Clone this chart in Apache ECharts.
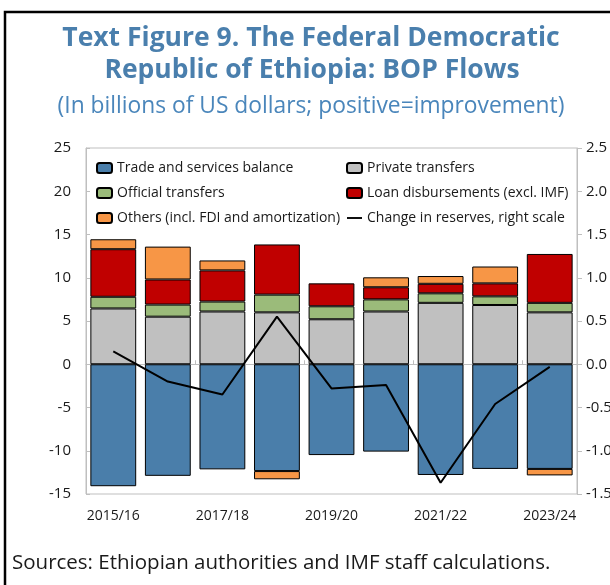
<!DOCTYPE html>
<html>
<head>
<meta charset="utf-8">
<script src="https://cdn.jsdelivr.net/npm/echarts@6/dist/echarts.min.js"></script>
<style>
  html, body { margin: 0; padding: 0; background: #fff; }
  #chart { width: 610px; height: 585px; }
</style>
</head>
<body>
<div id="chart"></div>
<script>
// Fiscal years
const categories = ['2015/16', '2016/17', '2017/18', '2018/19', '2019/20', '2020/21', '2021/22', '2022/23', '2023/24'];

// BOP flows, billions of US dollars
const tradeBalance = [-14.1, -12.9, -12.15, -12.35, -10.5, -10.1, -12.8, -12.1, -12.1];
const privateTransfers = [6.45, 5.5, 6.1, 6.0, 5.2, 6.1, 7.1, 6.85, 6.0];
const officialTransfers = [1.35, 1.4, 1.15, 2.05, 1.5, 1.4, 1.1, 1.0, 1.1];
const loanDisbursements = [5.5, 2.9, 3.6, 5.8, 2.65, 1.4, 1.1, 1.5, 5.65];
const others = [1.15, 3.8, 1.15, -0.95, null, 1.15, 0.9, 1.95, -0.75];

// Change in reserves (right scale)
const reserveChange = [0.15, -0.2, -0.35, 0.55, -0.28, -0.24, -1.37, -0.46, -0.03];

const FONT = '"Open Sans", "Noto Sans", sans-serif';
const AXIS_GRAY = '#bfbfbf';
const TEXT = '#1a1a1a';
const LINE_NAME = 'Change in reserves, right scale';

const chart = echarts.init(document.getElementById('chart'), null, { renderer: 'canvas' });

function barSeries(name, data, color) {
  return {
    name, type: 'bar', stack: 'bop', data,
    barWidth: '84%',
    itemStyle: { color, borderColor: '#000', borderWidth: 1 },
    xAxisIndex: 0, yAxisIndex: 0
  };
}

const legendText = { fontFamily: FONT, fontSize: 14, color: TEXT, lineHeight: 14 };
const lineIcon = 'path://M0,0 H16 V2 H0 Z';

chart.setOption({
  animation: false,
  backgroundColor: '#fff',
  textStyle: { fontFamily: FONT },
  graphic: [
    { type: 'rect', silent: true, shape: { x: 5, y: 12, width: 700, height: 700 },
      style: { fill: 'none', stroke: '#000', lineWidth: 2.5 } },
    { type: 'text', x: 311, y: 38, style: { text: 'Text Figure 9. The Federal Democratic',
      font: 'bold 26.5px ' + FONT, fill: '#4a7fad', align: 'center', verticalAlign: 'middle' } },
    { type: 'text', x: 312, y: 70, style: { text: 'Republic of Ethiopia: BOP Flows',
      font: 'bold 26.5px ' + FONT, fill: '#4a7fad', align: 'center', verticalAlign: 'middle' } },
    { type: 'text', x: 311, y: 107, style: { text: '(In billions of US dollars; positive=improvement)',
      font: '22.8px ' + FONT, fill: '#4a86bb', align: 'center', verticalAlign: 'middle' } },
    { type: 'text', x: 12, y: 563, style: { text: 'Sources: Ethiopian authorities and IMF staff calculations.',
      font: '20.5px ' + FONT, fill: TEXT, align: 'left', verticalAlign: 'middle' } }
  ],
  legend: [
    { orient: 'vertical', left: 96, top: 161, padding: 0, itemWidth: 15, itemHeight: 10, itemGap: 11,
      textStyle: legendText,
      data: ['Trade and services balance', 'Official transfers', 'Others (incl. FDI and amortization)'] },
    { orient: 'vertical', left: 346, top: 161, padding: 0, itemWidth: 15, itemHeight: 10, itemGap: 11,
      textStyle: legendText,
      data: ['Private transfers', 'Loan disbursements (excl. IMF)', { name: LINE_NAME, icon: lineIcon }] }
  ],
  grid: { left: 86, right: 33, top: 148, bottom: 91, show: true, borderColor: AXIS_GRAY, borderWidth: 1,
    containLabel: false, outerBoundsMode: 'none' },
  xAxis: [
    { type: 'category', data: categories, position: 'bottom',
      axisLine: { onZero: true, lineStyle: { color: AXIS_GRAY } },
      axisTick: { show: true, inside: true, length: 4, lineStyle: { color: AXIS_GRAY } },
      axisLabel: { show: false } },
    { type: 'category', data: categories, position: 'bottom',
      axisLine: { show: false, onZero: false }, axisTick: { show: false },
      axisLabel: { interval: 1, margin: 15, fontSize: 14, color: TEXT, fontFamily: FONT } }
  ],
  yAxis: [
    { type: 'value', min: -15, max: 25, interval: 5, position: 'left',
      axisLine: { show: true, lineStyle: { color: AXIS_GRAY } },
      axisTick: { show: true, inside: true, length: 4, lineStyle: { color: AXIS_GRAY } },
      splitLine: { show: false },
      axisLabel: { margin: 15, fontSize: 15, color: TEXT, fontFamily: FONT } },
    { type: 'value', min: -1.5, max: 2.5, interval: 0.5, position: 'right',
      axisLine: { show: true, lineStyle: { color: AXIS_GRAY } },
      axisTick: { show: true, inside: false, length: 5, lineStyle: { color: AXIS_GRAY } },
      splitLine: { show: false },
      axisLabel: { margin: 9, fontSize: 15, color: TEXT, fontFamily: FONT,
        formatter: v => v.toFixed(1) } }
  ],
  series: [
    barSeries('Trade and services balance', tradeBalance, '#4a7eaa'),
    barSeries('Private transfers', privateTransfers, '#c0c0c0'),
    barSeries('Official transfers', officialTransfers, '#9bbb7a'),
    barSeries('Loan disbursements (excl. IMF)', loanDisbursements, '#c00000'),
    barSeries('Others (incl. FDI and amortization)', others, '#f79646'),
    { name: LINE_NAME, type: 'line', data: reserveChange,
      xAxisIndex: 0, yAxisIndex: 1, symbol: 'none', z: 5,
      lineStyle: { color: '#000', width: 2 }, itemStyle: { color: '#000' } }
  ]
});
</script>
</body>
</html>
